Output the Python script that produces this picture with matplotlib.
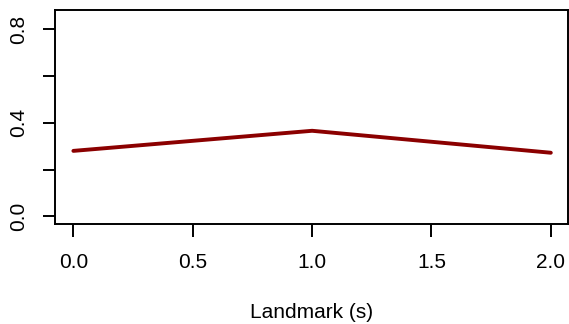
import matplotlib
matplotlib.use('Agg')
import matplotlib.pyplot as plt

# landmark times (s) and values
landmark = [0.0, 1.0, 2.0]
value = [0.28, 0.366, 0.272]
x_ticks = [0.0, 0.5, 1.0, 1.5, 2.0]
x_labels = ['0.0', '0.5', '1.0', '1.5', '2.0']
y_ticks = [0.0, 0.2, 0.4, 0.6, 0.8]
y_labels = ['0.0', '', '0.4', '', '0.8']

plt.rcParams['font.family'] = ['Liberation Sans', 'DejaVu Sans']

fig = plt.figure(figsize=(5.69, 3.24), dpi=100)
W, H = 569, 324
ax = fig.add_axes([55 / W, (H - 224) / H, (568 - 55) / W, (224 - 10) / H])

ax.plot(landmark, value, color='#8B0000', lw=2.8, solid_capstyle='round')

ax.set_xlim(-0.077, 2.072)
ax.set_ylim(-0.033, 0.883)
ax.set_xticks(x_ticks)
ax.set_xticklabels(x_labels)
ax.set_yticks(y_ticks)
ax.set_yticklabels(y_labels, rotation=90, va='center')
ax.tick_params(length=9, width=1.4, labelsize=15)
ax.tick_params(axis='x', pad=12)
ax.tick_params(axis='y', pad=10)
for s in ax.spines.values():
    s.set_linewidth(1.4)

ax.set_xlabel('Landmark (s)', fontsize=15, labelpad=22)

fig.savefig('out.png', dpi=100)
